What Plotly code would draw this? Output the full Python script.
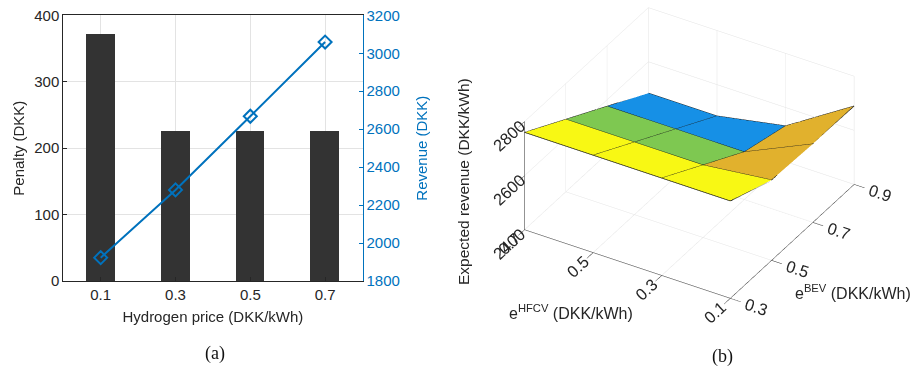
import numpy as np
import plotly.graph_objects as go

# ---------------- data ----------------
price = [0.1, 0.3, 0.5, 0.7]
penalty = [372, 226, 226, 226]
revenue = [1923, 2280, 2668, 3059]

hfcv = [0.1, 0.3, 0.5, 0.7]
bev = [0.3, 0.5, 0.7, 0.9]
# rows: bev, cols: hfcv
exp_revenue = [
    [2760, 2760, 2760, 2760],
    [2697, 2668, 2668, 2668],
    [2690, 2576, 2576, 2576],
    [2690, 2532, 2484, 2484],
]

W, H = 916, 369
AX = "#262626"
BLUE = "#0072BD"
GRID = "#e3e3e3"
FONT = "Liberation Sans"

fig = go.Figure()

# ---------------- panel (a) ----------------
fig.add_trace(go.Bar(x=price, y=penalty, width=0.077, marker=dict(color="#333333", line_width=0),
                     xaxis="x", yaxis="y", showlegend=False))
fig.add_trace(go.Scatter(x=price, y=revenue, mode="lines+markers",
                         line=dict(color=BLUE, width=2),
                         marker=dict(symbol="diamond-open", size=10, color=BLUE, line=dict(width=2, color=BLUE)),
                         xaxis="x", yaxis="y2", showlegend=False))

# ---------------- panel (b) ----------------
Z = np.array(exp_revenue, dtype=float)
nb, nh = Z.shape
xs, ys, zs = [], [], []
for j in range(nb):
    for i in range(nh):
        xs.append(bev[j]); ys.append(hfcv[i]); zs.append(Z[j, i])
I, J, K, inten = [], [], [], []
for j in range(nb - 1):
    for i in range(nh - 1):
        a = j * nh + i
        b = j * nh + i + 1
        c = (j + 1) * nh + i + 1
        d = (j + 1) * nh + i
        v = Z[j, i]  # flat colour from the lowest-index corner
        I += [a, a]; J += [b, c]; K += [c, d]; inten += [v, v]

zmin, zmax = Z.min(), Z.max()
cs = [[0.0, "#3e26a8"], [0.333, "#1690e6"], [0.667, "#7dc852"],
      [0.72, "#e1b12d"], [0.8, "#e1b12d"], [1.0, "#f8f814"]]
fig.add_trace(go.Mesh3d(x=xs, y=ys, z=zs, i=I, j=J, k=K,
                        intensity=inten, intensitymode="cell", colorscale=cs,
                        cmin=zmin, cmax=zmax, showscale=False, flatshading=True,
                        lighting=dict(ambient=1, diffuse=0, specular=0, roughness=1, fresnel=0),
                        scene="scene", hoverinfo="skip"))
# edges
ex, ey, ez = [], [], []
for j in range(nb):
    for i in range(nh):
        ex.append(bev[j]); ey.append(hfcv[i]); ez.append(Z[j, i])
    ex.append(None); ey.append(None); ez.append(None)
for i in range(nh):
    for j in range(nb):
        ex.append(bev[j]); ey.append(hfcv[i]); ez.append(Z[j, i])
    ex.append(None); ey.append(None); ez.append(None)
fig.add_trace(go.Scatter3d(x=ex, y=ey, z=ez, mode="lines", line=dict(color="#1a1a1a", width=1.5),
                           scene="scene", showlegend=False, hoverinfo="skip"))

# camera direction from reference projection (orthographic; zoom via aspect ratio)
el = np.arcsin(0.5538)
hx, hy = -0.857, -0.516
D = 1.5
dirv = np.array([hx * np.cos(el), hy * np.cos(el), np.sin(el)])
r = np.array([-hy, hx, 0.0])
cen = -0.069 * r + np.array([0, 0, -0.084])
eyev = cen + D * dirv
eye = dict(x=eyev[0], y=eyev[1], z=eyev[2])
center = dict(x=cen[0], y=cen[1], z=cen[2])
SC = 1.46

def ax3(vals, rng, fs=14, tl=5):
    return dict(title=dict(text=""), range=rng, tickvals=vals, ticktext=[f"{v:g}" for v in vals],
                tickfont=dict(family=FONT, size=fs, color=AX),
                showbackground=False, gridcolor=GRID, gridwidth=1,
                showline=True, linecolor=AX, linewidth=1, zeroline=False,
                ticks="outside", ticklen=tl, tickcolor=AX, showspikes=False)

def ax2(**kw):
    base = dict(automargin=False, zeroline=False)
    base.update(kw)
    return base

def ann(text, x, y, size, family=FONT, color=AX, angle=0):
    return dict(text=text, x=x / W, y=1 - y / H, xref="paper", yref="paper", showarrow=False,
                xanchor="center", yanchor="middle", textangle=angle,
                font=dict(family=family, size=size, color=color))

fig.update_layout(
    width=W, height=H, margin=dict(l=0, r=0, t=0, b=0, autoexpand=False),
    paper_bgcolor="white", plot_bgcolor="white",
    font=dict(family=FONT, size=15, color=AX),
    bargap=0,
    xaxis=ax2(domain=[63.3 / W, 362.5 / W], range=[0, 0.8], tickvals=price,
              ticktext=["0.1", "0.3", "0.5", "0.7"], ticks="inside", ticklen=4, tickcolor=AX,
              showline=True, linecolor=AX, mirror=True, showgrid=True, gridcolor=GRID,
              tickfont=dict(size=15, color=AX),
              title=dict(text="Hydrogen price (DKK/kWh)", font=dict(size=15, color=AX), standoff=9)),
    yaxis=ax2(domain=[1 - 281 / H, 1 - 15.3 / H], range=[0, 400], dtick=100,
              ticks="inside", ticklen=4, tickcolor=AX, showline=True, linecolor=AX,
              showgrid=True, gridcolor=GRID, tickfont=dict(size=15, color=AX),
              title=dict(text="Penalty (DKK)", font=dict(size=15, color=AX), standoff=6)),
    yaxis2=ax2(overlaying="y", side="right", anchor="x", range=[1800, 3200], dtick=200,
               ticks="inside", ticklen=4, tickcolor=BLUE, showline=True, linecolor=BLUE,
               showgrid=False, tickfont=dict(size=15, color=BLUE),
               title=dict(text="Revenue (DKK)", font=dict(size=15, color=BLUE), standoff=17)),
    scene=dict(domain=dict(x=[440 / W, 1.0], y=[40 / H, 1.0]),
               xaxis=ax3(bev, [0.3, 0.9], tl=12),
               yaxis=ax3(hfcv, [0.1, 0.7], tl=12),
               zaxis=ax3([2400, 2600, 2800], [2400, 2800], tl=1),
               aspectmode="manual", aspectratio=dict(x=SC, y=SC, z=0.541 * SC),
               camera=dict(eye=eye, up=dict(x=0, y=0, z=1), center=center,
                           projection=dict(type="orthographic")),
               bgcolor="white"),
    annotations=[
        ann("(a)", 215, 353, 18, family="Liberation Serif", color="#111111"),
        ann("(b)", 722, 356, 18, family="Liberation Serif", color="#111111"),
        ann("Expected revenue (DKK/kWh)", 463, 182, 15.5, angle=-90),
        ann("e<sup>HFCV</sup> (DKK/kWh)", 571, 312, 16),
        ann("e<sup>BEV</sup> (DKK/kWh)", 853, 292, 16),
    ],
)

fig.write_html("out.html")
